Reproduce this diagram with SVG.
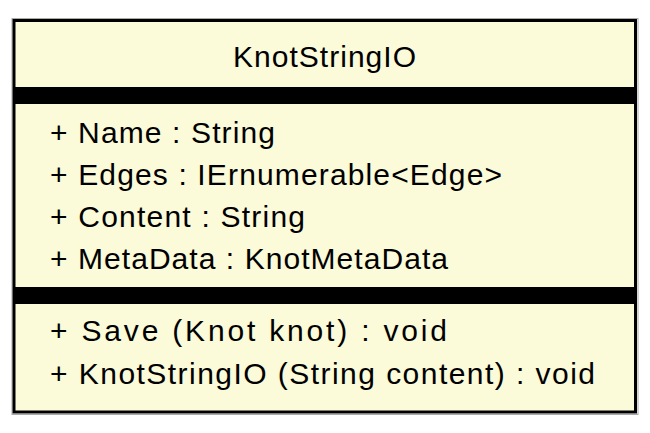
<svg xmlns="http://www.w3.org/2000/svg" width="650" height="433" viewBox="0 0 650 433">
<style>
.t{font-family:"Liberation Sans",Arial,sans-serif;font-size:30px;fill:#000}
.bar{fill:#000}
</style>
<rect width="650" height="433" fill="#fff"/>
<g id="KnotStringIO">
<rect x="12" y="18.5" width="626" height="396" fill="none" stroke="#aaa" stroke-width="1"/>
<rect x="14" y="20.5" width="621.5" height="391.5" fill="#FBFAD9" stroke="#000" stroke-width="3"/>
<text class="t" x="324.5" y="67" text-anchor="middle" textLength="183" lengthAdjust="spacing">KnotStringIO</text>
<rect class="bar" x="14" y="87" width="621.5" height="17"/>
<text class="t" x="50" y="142.5" textLength="225" lengthAdjust="spacing">+ Name : String</text>
<text class="t" x="50" y="184.5" textLength="452" lengthAdjust="spacing">+ Edges : IErnumerable&lt;Edge&gt;</text>
<text class="t" x="50" y="226.5" textLength="255" lengthAdjust="spacing">+ Content : String</text>
<text class="t" x="50" y="268.5" textLength="398" lengthAdjust="spacing">+ MetaData : KnotMetaData</text>
<rect class="bar" x="14" y="287" width="621.5" height="17"/>
<text class="t" x="50" y="341" textLength="397" lengthAdjust="spacing">+ Save (Knot knot) : void</text>
<text class="t" x="50" y="384" textLength="545" lengthAdjust="spacing">+ KnotStringIO (String content) : void</text>
</g>
</svg>
